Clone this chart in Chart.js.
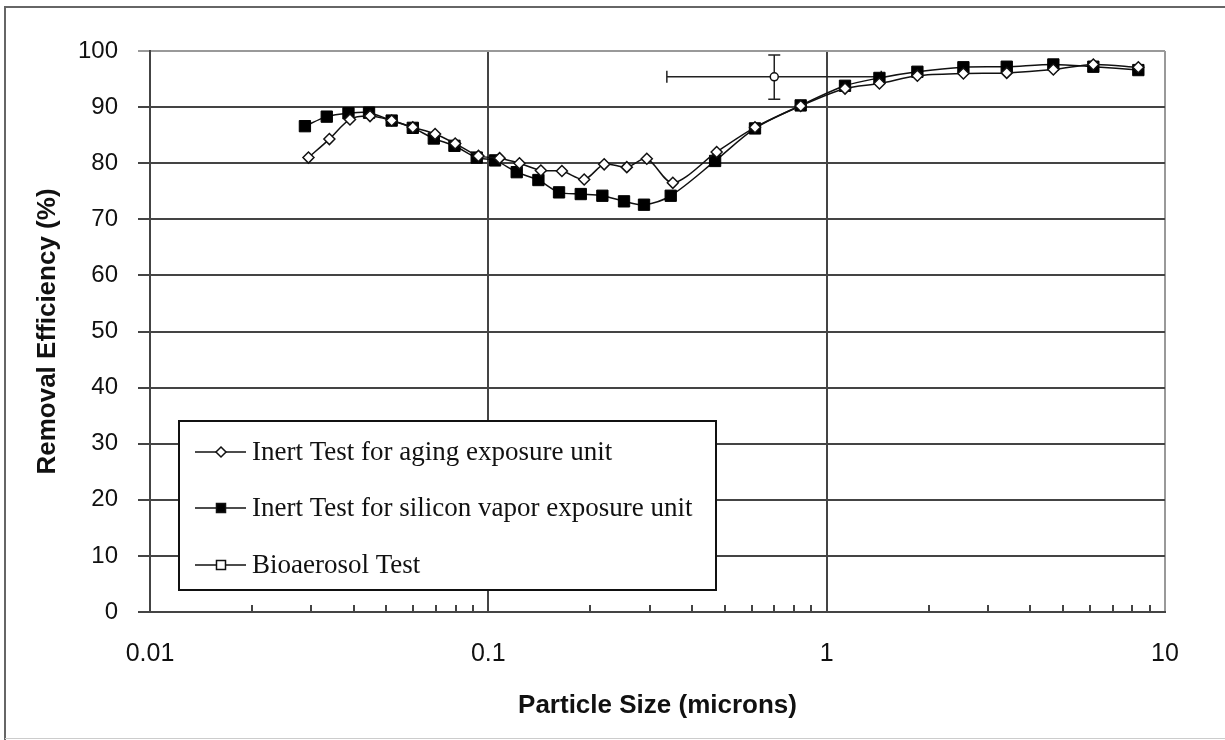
<!DOCTYPE html>
<html>
<head>
<meta charset="utf-8">
<script src="https://cdn.jsdelivr.net/npm/chart.js@4.4.0/dist/chart.umd.min.js"></script>
<style>
  body { margin: 0; background: #fff; }
</style>
</head>
<body>
<canvas id="myChart" width="1225" height="740"></canvas>
<script>
// particle size (microns) and removal efficiency (%)
const agingSize = [0.0294, 0.0339, 0.039, 0.0447, 0.0518, 0.0598, 0.0696, 0.0798, 0.0935, 0.108,
    0.1236, 0.143, 0.165, 0.192, 0.22, 0.2566, 0.294, 0.351, 0.473, 0.614,
    0.838, 1.133, 1.432, 1.854, 2.536, 3.406, 4.677, 6.14, 8.34];
const agingEff = [81.0, 84.3, 87.8, 88.4, 87.6, 86.4, 85.2, 83.5, 81.3, 80.9,
    80.0, 78.7, 78.6, 77.1, 79.8, 79.3, 80.8, 76.5, 82.0, 86.4,
    90.2, 93.3, 94.2, 95.6, 96.0, 96.1, 96.7, 97.6, 97.1];

const siliconSize = [0.0287, 0.0333, 0.0386, 0.0444, 0.0518, 0.0598, 0.069, 0.0794, 0.0924, 0.1047,
    0.1213, 0.1406, 0.1618, 0.1876, 0.2173, 0.2518, 0.2885, 0.346, 0.468, 0.614,
    0.838, 1.133, 1.432, 1.854, 2.536, 3.406, 4.677, 6.14, 8.34];
const siliconEff = [86.6, 88.3, 88.9, 89.0, 87.6, 86.3, 84.4, 83.1, 81.0, 80.5,
    78.4, 77.0, 74.8, 74.5, 74.2, 73.2, 72.6, 74.2, 80.4, 86.2,
    90.3, 93.8, 95.2, 96.3, 97.1, 97.2, 97.6, 97.2, 96.6];

const bioSize = [0.70];
const bioEff = [95.4];
const bioSizeLow = [0.337];
const bioSizeHigh = [1.45];
const bioEffLow = [91.4];
const bioEffHigh = [99.3];

const xTicks = [0.01, 0.1, 1, 10];
const xTickLabels = ['0.01', '0.1', '1', '10'];
const legendLabels = ['Inert Test for aging exposure unit',
    'Inert Test for silicon vapor exposure unit',
    'Bioaerosol Test'];

function toPoints(xs, ys) {
    return xs.map((x, i) => ({ x: x, y: ys[i] }));
}

const framePlugin = {
    id: 'frame',
    beforeDraw(chart) {
        const c = chart.ctx;
        c.save();
        c.fillStyle = '#fff';
        c.fillRect(0, 0, chart.width, chart.height);
        c.strokeStyle = '#666';
        c.lineWidth = 2;
        c.beginPath();
        c.moveTo(5, chart.height);
        c.lineTo(5, 7);
        c.lineTo(chart.width, 7);
        c.stroke();
        c.strokeStyle = '#ccc';
        c.lineWidth = 1;
        c.beginPath();
        c.moveTo(5, 738.5);
        c.lineTo(chart.width, 738.5);
        c.stroke();
        c.restore();
    }
};

const minorTickPlugin = {
    id: 'minorTicks',
    beforeDatasetsDraw(chart) {
        const c = chart.ctx;
        const xs = chart.scales.x;
        const bottom = chart.chartArea.bottom;
        c.save();
        c.strokeStyle = '#444';
        c.lineWidth = 2;
        for (let d = 0; d < xTicks.length - 1; d++) {
            for (let m = 2; m <= 9; m++) {
                const px = Math.round(xs.getPixelForValue(xTicks[d] * m));
                c.beginPath();
                c.moveTo(px, bottom);
                c.lineTo(px, bottom - 7);
                c.stroke();
            }
        }
        c.restore();
    }
};

const errorBarPlugin = {
    id: 'errorBars',
    beforeDatasetsDraw(chart) {
        const c = chart.ctx;
        const xs = chart.scales.x, ys = chart.scales.y;
        c.save();
        c.strokeStyle = '#222';
        c.lineWidth = 1.5;
        bioSize.forEach((v, i) => {
            const px = xs.getPixelForValue(v);
            const py = ys.getPixelForValue(bioEff[i]);
            const x0 = xs.getPixelForValue(bioSizeLow[i]);
            const x1 = xs.getPixelForValue(bioSizeHigh[i]);
            const y0 = ys.getPixelForValue(bioEffLow[i]);
            const y1 = ys.getPixelForValue(bioEffHigh[i]);
            c.beginPath();
            c.moveTo(x0, py); c.lineTo(x1, py);
            c.moveTo(x0, py - 6); c.lineTo(x0, py + 6);
            c.moveTo(x1, py - 6); c.lineTo(x1, py + 6);
            c.moveTo(px, y0); c.lineTo(px, y1);
            c.moveTo(px - 6, y0); c.lineTo(px + 6, y0);
            c.moveTo(px - 6, y1); c.lineTo(px + 6, y1);
            c.stroke();
        });
        c.restore();
    }
};

const legendPlugin = {
    id: 'boxLegend',
    afterDraw(chart) {
        const c = chart.ctx;
        const left = 179, top = 421, right = 716, bottom = 590;
        const rows = [452, 508, 565];
        const styles = [
            { shape: 'diamond', fill: '#fff' },
            { shape: 'square', fill: '#000' },
            { shape: 'square', fill: '#fff' }
        ];
        c.save();
        c.fillStyle = '#fff';
        c.fillRect(left, top, right - left, bottom - top);
        c.strokeStyle = '#111';
        c.lineWidth = 2;
        c.strokeRect(left, top, right - left, bottom - top);
        c.font = '27px "Liberation Serif", "Times New Roman", serif';
        c.textBaseline = 'middle';
        legendLabels.forEach((label, i) => {
            const y = rows[i];
            c.strokeStyle = '#111';
            c.lineWidth = 1.5;
            c.beginPath();
            c.moveTo(195, y);
            c.lineTo(246, y);
            c.stroke();
            c.fillStyle = styles[i].fill;
            c.beginPath();
            if (styles[i].shape === 'diamond') {
                c.moveTo(221, y - 5); c.lineTo(226, y); c.lineTo(221, y + 5); c.lineTo(216, y);
                c.closePath();
            } else {
                c.rect(216.5, y - 4.5, 9, 9);
            }
            c.fill();
            c.stroke();
            c.fillStyle = '#111';
            c.fillText(label, 252, y + 1);
        });
        c.restore();
    }
};

new Chart(document.getElementById('myChart'), {
    type: 'line',
    data: {
        datasets: [{
            label: legendLabels[2],
            data: toPoints(bioSize, bioEff),
            showLine: false,
            pointStyle: 'circle',
            pointRadius: 4,
            pointBackgroundColor: '#fff',
            pointBorderColor: '#111',
            pointBorderWidth: 1.5
        }, {
            label: legendLabels[0],
            data: toPoints(agingSize, agingEff),
            borderColor: '#111',
            borderWidth: 1.5,
            tension: 0.3,
            pointStyle: 'rectRot',
            pointRadius: 5.5,
            pointBackgroundColor: '#fff',
            pointBorderColor: '#111',
            pointBorderWidth: 1.5
        }, {
            label: legendLabels[1],
            data: toPoints(siliconSize, siliconEff),
            borderColor: '#111',
            borderWidth: 1.5,
            tension: 0.3,
            pointStyle: 'rect',
            pointRadius: 8,
            pointBackgroundColor: '#000',
            pointBorderColor: '#000',
            pointBorderWidth: 1
        }]
    },
    options: {
        responsive: false,
        animation: false,
        devicePixelRatio: 1,
        layout: {
            padding: { top: 51, right: 60, left: 0, bottom: 0 }
        },
        scales: {
            x: {
                type: 'logarithmic',
                min: 0.01,
                max: 10,
                afterBuildTicks: function (scale) {
                    scale.ticks = xTicks.map(v => ({ value: v }));
                },
                afterFit: function (scale) {
                    scale.height = 128;
                },
                grid: {
                    drawTicks: false,
                    lineWidth: 2,
                    color: function (ctx) {
                        return ctx.tick && ctx.tick.value === 10 ? '#999' : '#444';
                    }
                },
                border: { color: '#444', width: 2 },
                ticks: {
                    padding: 27,
                    color: '#111',
                    font: { family: '"Liberation Sans", Arial, sans-serif', size: 25 },
                    callback: function (value) {
                        const i = xTicks.indexOf(value);
                        return i >= 0 ? xTickLabels[i] : '';
                    }
                },
                title: {
                    display: true,
                    text: 'Particle Size (microns)',
                    color: '#111',
                    font: { family: '"Liberation Sans", Arial, sans-serif', size: 26, weight: 'bold' },
                    padding: { top: 0, bottom: 19 }
                }
            },
            y: {
                min: 0,
                max: 100,
                afterFit: function (scale) {
                    scale.width = 150;
                },
                grid: {
                    lineWidth: 2,
                    tickLength: 12,
                    color: function (ctx) {
                        return ctx.tick && ctx.tick.value === 100 ? '#999' : '#444';
                    }
                },
                border: { color: '#444', width: 2 },
                ticks: {
                    stepSize: 10,
                    padding: 20,
                    color: '#111',
                    font: { family: '"Liberation Sans", Arial, sans-serif', size: 24 }
                },
                title: {
                    display: true,
                    text: 'Removal Efficiency (%)',
                    color: '#111',
                    font: { family: '"Liberation Sans", Arial, sans-serif', size: 26, weight: 'bold' },
                    padding: { top: 32, bottom: 0 }
                }
            }
        },
        plugins: {
            legend: { display: false },
            tooltip: { enabled: false }
        }
    },
    plugins: [framePlugin, minorTickPlugin, errorBarPlugin, legendPlugin]
});
</script>
</body>
</html>
